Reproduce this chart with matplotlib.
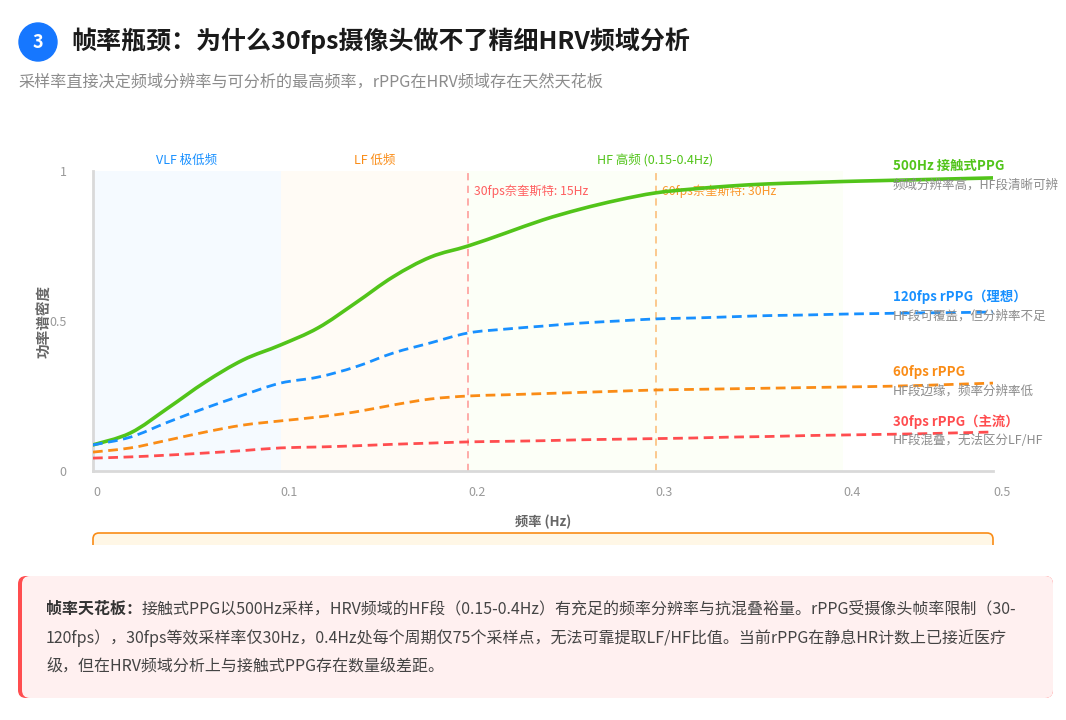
import matplotlib
matplotlib.use('Agg')
import matplotlib.pyplot as plt
from matplotlib.patches import Circle, FancyBboxPatch, Rectangle, PathPatch
from matplotlib.path import Path

plt.rcParams['font.family'] = ['Noto Sans CJK SC', 'DejaVu Sans']

W, H = 1066, 720

# frequency categories (Hz), evenly spaced on a category axis
freqs = [0, 0.02, 0.04, 0.06, 0.08, 0.1, 0.12, 0.14, 0.16, 0.18, 0.2, 0.22,
         0.24, 0.26, 0.28, 0.3, 0.32, 0.34, 0.36, 0.38, 0.4, 0.42, 0.44, 0.46, 0.48]
tick_idx = [0, 5, 10, 15, 20, 24]
tick_labels = ['0', '0.1', '0.2', '0.3', '0.4', '0.5']

ppg_500 = [0.087, 0.127, 0.21, 0.297, 0.37, 0.42, 0.477, 0.56, 0.647, 0.713, 0.75,
           0.793, 0.837, 0.873, 0.903, 0.927, 0.94, 0.95, 0.957, 0.961, 0.965,
           0.968, 0.971, 0.974, 0.977]
rppg_120 = [0.087, 0.113, 0.163, 0.21, 0.253, 0.293, 0.313, 0.347, 0.393, 0.427, 0.46,
            0.473, 0.483, 0.493, 0.5, 0.507, 0.51, 0.514, 0.518, 0.52, 0.523,
            0.525, 0.527, 0.528, 0.53]
rppg_60 = [0.063, 0.077, 0.103, 0.13, 0.153, 0.167, 0.18, 0.197, 0.22, 0.24, 0.25,
           0.254, 0.258, 0.262, 0.266, 0.27, 0.272, 0.274, 0.276, 0.278, 0.28,
           0.282, 0.285, 0.289, 0.293]
rppg_30 = [0.043, 0.047, 0.053, 0.06, 0.068, 0.077, 0.08, 0.084, 0.089, 0.093, 0.097,
           0.099, 0.101, 0.104, 0.106, 0.108, 0.11, 0.113, 0.115, 0.118, 0.12,
           0.122, 0.124, 0.127, 0.13]

series = [
    (ppg_500, '#52c41a', '-', '500Hz 接触式PPG', '频域分辨率高，HF段清晰可辨', 166),
    (rppg_120, '#1890ff', '--', '120fps rPPG（理想）', 'HF段可覆盖，但分辨率不足', 297),
    (rppg_60, '#fa8c16', '--', '60fps rPPG', 'HF段边缘，频率分辨率低', 372),
    (rppg_30, '#ff4d4f', '--', '30fps rPPG（主流）', 'HF段混叠，无法区分LF/HF', 422),
]

bands = [(0, 5, '#f5faff', 'VLF 极低频', '#1890ff'),
         (5, 10, '#fffbf5', 'LF 低频', '#fa8c16'),
         (10, 20, '#fcfff7', 'HF 高频 (0.15-0.4Hz)', '#52c41a')]

nyquist = [(10, '#ff4d4f', '30fps奈奎斯特: 15Hz'),
           (15, '#fa8c16', '60fps奈奎斯特: 30Hz')]


def smooth_path(xs, ys, k=0.35):
    # smooth line through the points using cubic bezier segments
    verts = [(xs[0], ys[0])]
    codes = [Path.MOVETO]
    n = len(xs)
    for i in range(n - 1):
        x0, y0 = xs[max(i - 1, 0)], ys[max(i - 1, 0)]
        x1, y1 = xs[i], ys[i]
        x2, y2 = xs[i + 1], ys[i + 1]
        x3, y3 = xs[min(i + 2, n - 1)], ys[min(i + 2, n - 1)]
        c1 = (x1 + (x2 - x0) * k / 2, y1 + (y2 - y0) * k / 2)
        c2 = (x2 - (x3 - x1) * k / 2, y2 - (y3 - y1) * k / 2)
        verts += [c1, c2, (x2, y2)]
        codes += [Path.CURVE4] * 3
    return Path(verts, codes)


fig = plt.figure(figsize=(W / 100, H / 100), dpi=100)
fig.patch.set_facecolor('white')

ax = fig.add_axes([93 / W, 1 - 471 / H, 900 / W, 300 / H])
x = list(range(len(freqs)))

for a, b, fc, name, tc in bands:
    ax.axvspan(a, b, color=fc, zorder=0, lw=0)
    ax.text((a + b) / 2, 1.036, name, transform=ax.get_xaxis_transform(),
            ha='center', va='center', fontsize=9, color=tc)

for i, c, name in nyquist:
    ax.axvline(i, color=c, alpha=0.5, lw=1.3, ls=(0, (4, 3)), zorder=1)
    ax.text(i + 0.16, 0.932, name, transform=ax.get_xaxis_transform(),
            ha='left', va='center', fontsize=8.8, color=c, alpha=0.9)

for vals, c, ls, name, sub, ly in series:
    if ls == '-':
        pp = PathPatch(smooth_path(x, vals), fc='none', ec=c, lw=2.6, zorder=3,
                       capstyle='round')
    else:
        pp = PathPatch(smooth_path(x, vals), fc='none', ec=c, lw=2.0,
                       ls=(0, (3.5, 2)), zorder=3)
    ax.add_patch(pp)

ax.set_xlim(0, len(freqs) - 1)
ax.set_ylim(0, 1)
ax.set_facecolor('white')
for s in ['top', 'right']:
    ax.spines[s].set_visible(False)
for s in ['left', 'bottom']:
    ax.spines[s].set_color('#d9d9d9')
    ax.spines[s].set_linewidth(2)
ax.set_xticks(tick_idx)
ax.set_xticklabels(tick_labels, ha='left')
ax.set_yticks([0, 0.5, 1])
ax.set_yticklabels(['0', '0.5', '1'])
ax.tick_params(length=0, colors='#999999', labelsize=9)
ax.tick_params(axis='x', pad=11)
ax.tick_params(axis='y', pad=19)
ax.set_xlabel('频率 (Hz)', fontsize=9.5, fontweight='bold', color='#666666')
ax.xaxis.set_label_coords(0.5, -44 / 300)
ax.set_ylabel('功率谱密度', fontsize=10.5, fontweight='bold', color='#666666')
ax.yaxis.set_label_coords(-41 / 900, 0.5)

# overlay in pixel coordinates
ov = fig.add_axes([0, 0, 1, 1], zorder=5)
ov.set_xlim(0, W)
ov.set_ylim(H, 0)
ov.axis('off')
ov.patch.set_alpha(0)

ov.add_patch(Circle((38, 42), 19, color='#1677ff'))
ov.text(38, 43, '3', ha='center', va='center', color='white', fontsize=13, fontweight='bold')
ov.text(71, 41, '帧率瓶颈：为什么30fps摄像头做不了精细HRV频域分析', ha='left', va='center',
        fontsize=18, fontweight='bold', color='#1a1a1a')
ov.text(18, 82, '采样率直接决定频域分辨率与可分析的最高频率，rPPG在HRV频域存在天然天花板',
        ha='left', va='center', fontsize=11.6, color='#8c8c8c')

clip = Rectangle((0, 0), 1052, 560, transform=ov.transData)
for vals, c, ls, name, sub, ly in series:
    t1 = ov.text(893, ly, name, ha='left', va='center', fontsize=9.6, fontweight='bold', color=c)
    t2 = ov.text(893, ly + 19, sub, ha='left', va='center', fontsize=9, color='#8c8c8c')
    t1.set_clip_path(clip)
    t2.set_clip_path(clip)

# clipped info box below the x axis
box = FancyBboxPatch((93, 533), 900, 40, boxstyle='round,pad=0,rounding_size=6',
                     fc='#fff7e6', ec='#fa8c16', lw=1.2)
ov.add_patch(box)
box.set_clip_path(Rectangle((0, 0), W, 545, transform=ov.transData))

# callout
ov.add_patch(FancyBboxPatch((18, 576), 1035, 122, boxstyle='round,pad=0,rounding_size=8',
                            fc='#ff4d4f', ec='none'))
ov.add_patch(FancyBboxPatch((22, 576), 1031, 122, boxstyle='round,pad=0,rounding_size=8',
                            fc='#fff0f0', ec='none'))

fs = 11.5
bold = ov.text(46, 609, '帧率天花板：', ha='left', va='center', fontsize=fs,
               fontweight='bold', color='#333333')
ov.annotate('接触式PPG以500Hz采样，HRV频域的HF段（0.15-0.4Hz）有充足的频率分辨率与抗混叠裕量。rPPG受摄像头帧率限制（30-',
            xy=(1, 0.5), xycoords=bold, ha='left', va='center', fontsize=fs, color='#444444')
ov.text(46, 638, '120fps），30fps等效采样率仅30Hz，0.4Hz处每个周期仅75个采样点，无法可靠提取LF/HF比值。当前rPPG在静息HR计数上已接近医疗',
        ha='left', va='center', fontsize=fs, color='#444444')
ov.text(46, 666, '级，但在HRV频域分析上与接触式PPG存在数量级差距。',
        ha='left', va='center', fontsize=fs, color='#444444')

fig.savefig('out.png', dpi=100, facecolor='white')
